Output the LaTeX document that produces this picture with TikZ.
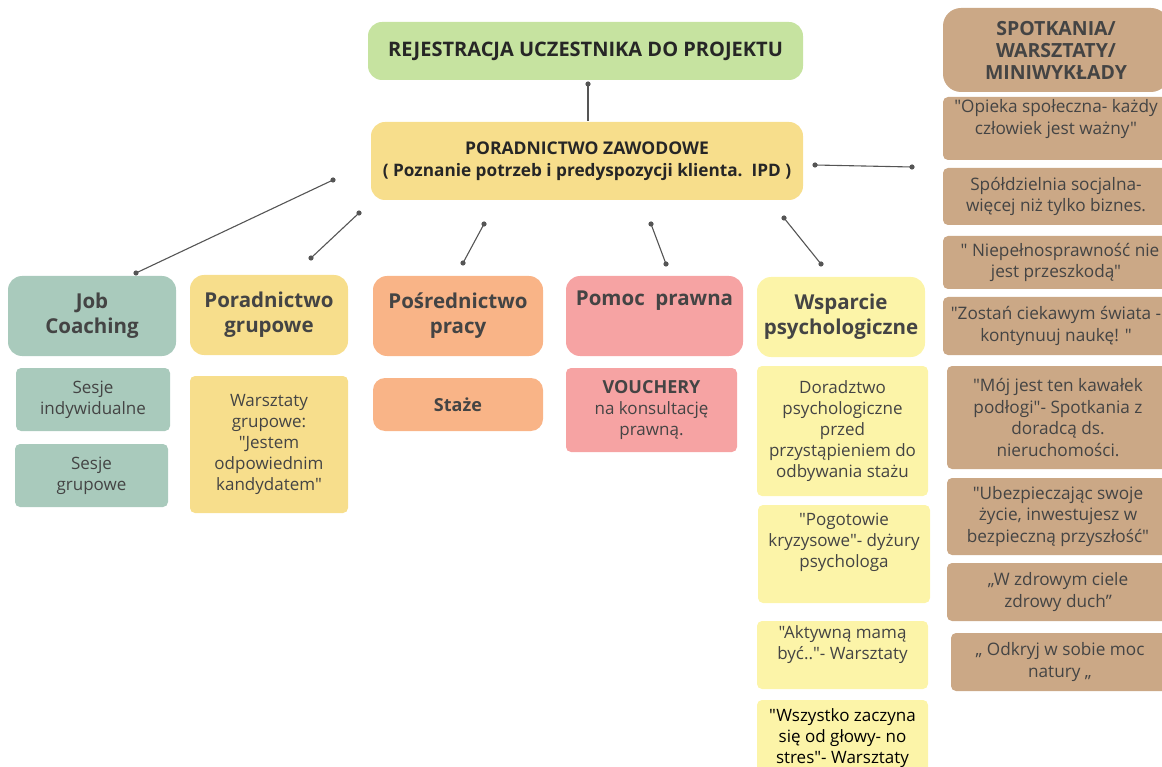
\documentclass[tikz,border=0pt]{standalone}
\usepackage{fontspec}
\setmainfont{Open Sans}[Ligatures=TeXOff]
\usetikzlibrary{arrows.meta}
\definecolor{cgreen}{HTML}{C6E3A0}
\definecolor{cyel}{HTML}{F7DE8C}
\definecolor{cteal}{HTML}{A9CABC}
\definecolor{corange}{HTML}{F9B487}
\definecolor{cpink}{HTML}{F6A3A3}
\definecolor{clyel}{HTML}{FCF4A8}
\definecolor{ctan}{HTML}{CBA886}
\definecolor{ctext}{HTML}{444444}
\definecolor{cline}{HTML}{555555}
\newcommand{\bodyf}{\fontsize{17}{21}\selectfont}
\newcommand{\rightf}{\fontsize{17.2}{21.5}\selectfont}
\newcommand{\headf}{\fontsize{20.5}{25}\selectfont\bfseries}
\tikzset{
  bigbox/.style={rounded corners=14pt, inner sep=0pt, align=center, text=ctext, font=\headf},
  smallbox/.style={rounded corners=5pt, inner sep=0pt, align=center, text=ctext, font=\bodyf},
  tanbox/.style={smallbox, fill=ctan, font=\rightf},
  conn/.style={draw=cline, line width=1.1pt},
  dot/.style={fill=cline}
}
\begin{document}
\begin{tikzpicture}[x=1pt,y=-1pt]
\useasboundingbox (0,0) rectangle (1162,767);
% top
\node[bigbox, fill=cgreen, minimum width=435pt, minimum height=58pt, text=black!85, font=\fontsize{20}{22}\selectfont\bfseries] (reg) at (585.5,51) {REJESTRACJA UCZESTNIKA DO PROJEKTU};
\node[bigbox, fill=cyel, minimum width=432pt, minimum height=78pt, text=black!85, font=\fontsize{17.5}{22}\selectfont\bfseries] (pz) at (587,161) {PORADNICTWO ZAWODOWE\\{\fontsize{17.2}{22}\selectfont( Poznanie potrzeb i predyspozycji klienta.\ \ IPD )}};
% columns headers
\node[bigbox, fill=cteal, minimum width=168pt, minimum height=80pt] (job) at (92,316) {Job\\Coaching};
\node[bigbox, fill=cyel, minimum width=158pt, minimum height=80pt] (pg) at (269,315) {Poradnictwo\\grupowe};
\node[bigbox, fill=corange, minimum width=170pt, minimum height=80pt] (posr) at (458,316) {Pośrednictwo\\pracy};
\node[bigbox, fill=cpink, minimum width=177pt, minimum height=80pt] (pomoc) at (654.5,316) {Pomoc\ \ prawna\\[4pt]\strut};
\node[bigbox, fill=clyel, minimum width=168pt, minimum height=80pt] (wsp) at (841,317) {Wsparcie\\psychologiczne};
% column items
\node[smallbox, fill=cteal, minimum width=154pt, minimum height=63pt] (ses1) at (93,399.5) {Sesje\\indywidualne};
\node[smallbox, fill=cteal, minimum width=153pt, minimum height=63pt] (ses2) at (91.5,475.5) {Sesje\\grupowe};
\node[smallbox, fill=cyel, minimum width=158pt, minimum height=137pt] (wars) at (269,444.5) {Warsztaty\\grupowe:\\"Jestem\\odpowiednim\\kandydatem"};
\node[bigbox, rounded corners=12pt, fill=corange, minimum width=170pt, minimum height=53pt, font=\fontsize{18}{21}\selectfont\bfseries] (staze) at (458,404.5) {Staże};
\node[smallbox, fill=cpink, minimum width=171pt, minimum height=84pt] (vouch) at (651.5,410) {{\fontsize{18}{21}\selectfont\bfseries VOUCHERY}\\na konsultację\\prawną.};
\node[smallbox, fill=clyel, minimum width=171pt, minimum height=130pt] (dor) at (842.5,431) {Doradztwo\\psychologiczne\\przed\\przystąpieniem do\\odbywania stażu};
\node[smallbox, fill=clyel, minimum width=172pt, minimum height=98pt] (pog) at (844,554) {"Pogotowie\\kryzysowe"- dyżury\\psychologa\\[6pt]};
\node[smallbox, fill=clyel, minimum width=171pt, minimum height=68pt] (akt) at (842.5,655) {"Aktywną mamą\\być.."- Warsztaty\\[4pt]};
\node[smallbox, fill=clyel, minimum width=171pt, minimum height=76pt, text=black] (wsz) at (842.5,738) {"Wszystko zaczyna\\się od głowy- no\\stres"- Warsztaty};
% right column
\node[bigbox, rounded corners=18pt, fill=ctan, minimum width=226pt, minimum height=84pt, font=\fontsize{19.5}{22}\selectfont\bfseries] (spot) at (1056,50) {SPOTKANIA/\\WARSZTATY/\\MINIWYKŁADY};
\node[tanbox, minimum width=226pt, minimum height=63pt] (r1) at (1056,128.5) {"Opieka społeczna- każdy\\człowiek jest ważny"\\[2pt]};
\node[tanbox, minimum width=226pt, minimum height=57pt] (r2) at (1056,196.5) {Spółdzielnia socjalna-\\więcej niż tylko biznes.};
\node[tanbox, minimum width=226pt, minimum height=53pt] (r3) at (1056,262.5) {\hspace*{8pt}" Niepełnosprawność nie\\jest przeszkodą"};
\node[tanbox, minimum width=226pt, minimum height=58pt] (r4) at (1056,326) {"Zostań ciekawym świata -\\kontynuuj naukę! "};
\node[tanbox, minimum width=222pt, minimum height=103pt] (r5) at (1058,417.5) {"Mój jest ten kawałek\\podłogi"- Spotkania z\\doradcą ds.\\nieruchomości.};
\node[tanbox, minimum width=222pt, minimum height=77pt] (r6) at (1058,516.5) {"Ubezpieczając swoje\\życie, inwestujesz w\\bezpieczną przyszłość"};
\node[tanbox, minimum width=222pt, minimum height=58pt] (r7) at (1058,592) {„W zdrowym ciele\\zdrowy duch”};
\node[tanbox, minimum width=218pt, minimum height=58pt] (r8) at (1060,662) {„ Odkryj w sobie moc\\natury „};
% connectors (free ends)
\coordinate (c1a) at (588,84); \coordinate (c1b) at (588,121);
\coordinate (c2a) at (815,165); \coordinate (c2b) at (912,167);
\coordinate (c3a) at (333,180); \coordinate (c3b) at (136,273);
\coordinate (c4a) at (359,213); \coordinate (c4b) at (311,258);
\coordinate (c5a) at (484,224); \coordinate (c5b) at (463,263);
\coordinate (c6a) at (651,224); \coordinate (c6b) at (666,264);
\coordinate (c7a) at (784,218); \coordinate (c7b) at (821,264);
\foreach \a/\b in {c1a/c1b,c2a/c2b,c3a/c3b,c4a/c4b,c5a/c5b,c6a/c6b,c7a/c7b}{
  \draw[conn] (\a) -- (\b);
  \fill[dot] (\a) circle (2.6pt);
}
\foreach \b in {c2b,c3b,c4b,c5b,c6b,c7b}
  \fill[dot] (\b) circle (2.6pt);
\end{tikzpicture}
\end{document}
